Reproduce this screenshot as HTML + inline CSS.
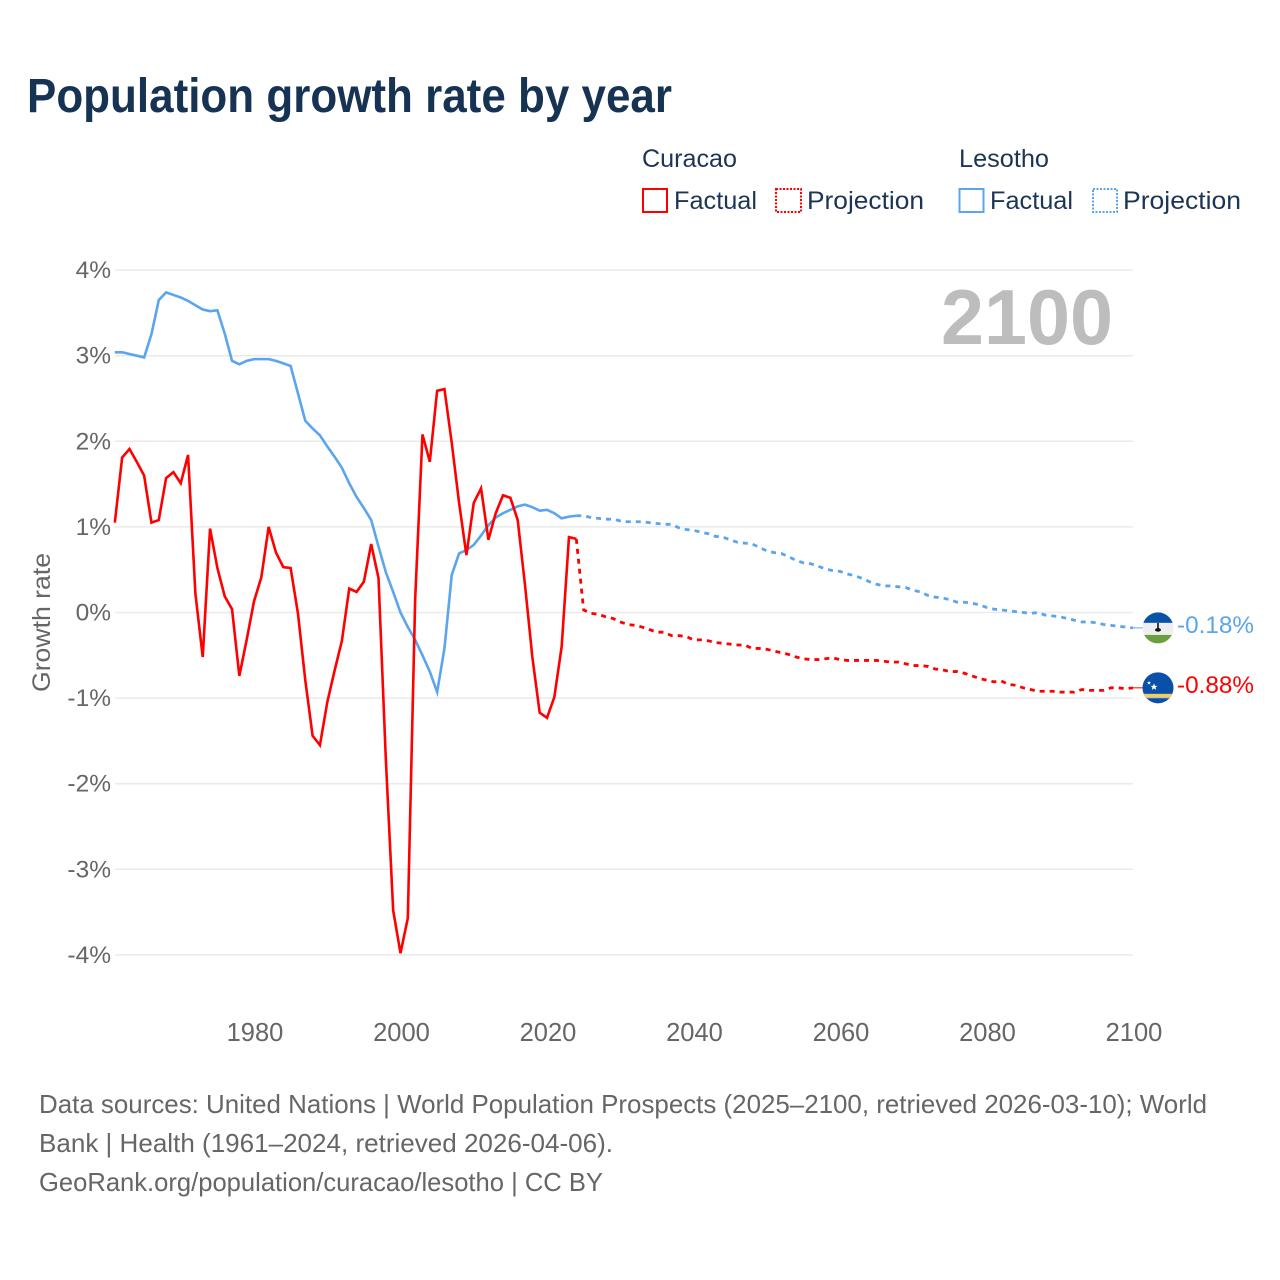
<!DOCTYPE html>
<html lang="en">
<head>
<meta charset="utf-8">
<title>Population growth rate by year</title>
<style>
html,body{margin:0;padding:0;background:#fff;width:1280px;height:1280px;overflow:hidden}
svg{display:block}
text{font-family:"Liberation Sans",sans-serif}
</style>
</head>
<body>
<svg id="chart" width="1280" height="1280" viewBox="0 0 1280 1280" xmlns="http://www.w3.org/2000/svg">
  <rect width="1280" height="1280" fill="#ffffff"/>
  <text x="27" y="112" font-size="48" font-weight="700" fill="#173353" textLength="645" lengthAdjust="spacingAndGlyphs">Population growth rate by year</text>

  <g font-size="25" fill="#1c3555">
    <text x="642" y="167" textLength="95" lengthAdjust="spacingAndGlyphs">Curacao</text>
    <text x="959" y="167" textLength="90" lengthAdjust="spacingAndGlyphs">Lesotho</text>
    <rect x="643" y="189" width="24" height="23" fill="none" stroke="#ff0000" stroke-width="2"/>
    <text x="674" y="209" textLength="83" lengthAdjust="spacingAndGlyphs">Factual</text>
    <rect x="776" y="189" width="25" height="23" fill="none" stroke="#ff0000" stroke-width="2" stroke-dasharray="2 1.5"/>
    <text x="807" y="209" textLength="117" lengthAdjust="spacingAndGlyphs">Projection</text>
    <rect x="959.5" y="189" width="24" height="23" fill="none" stroke="#5ba4ee" stroke-width="2"/>
    <text x="990" y="209" textLength="83" lengthAdjust="spacingAndGlyphs">Factual</text>
    <rect x="1093" y="189" width="24" height="23" fill="none" stroke="#5ba4ee" stroke-width="2" stroke-dasharray="2 1.5"/>
    <text x="1123" y="209" textLength="118" lengthAdjust="spacingAndGlyphs">Projection</text>
  </g>

  <g id="grid"></g>
  <g id="y-ticks"></g>
  <g id="x-ticks"></g>
  <text transform="translate(50,692) rotate(-90)" font-size="25" fill="#666666" textLength="139" lengthAdjust="spacingAndGlyphs">Growth rate</text>
  <text x="941" y="344" font-size="78" font-weight="700" fill="#bdbdbd" textLength="172" lengthAdjust="spacingAndGlyphs">2100</text>

  <g id="series"></g>

  <g id="flag-lesotho">
    <clipPath id="clip-ls"><circle cx="0" cy="0" r="15.5"/></clipPath>
    <g clip-path="url(#clip-ls)">
      <rect x="-16" y="-16" width="32" height="11" fill="#0a52a8"/>
      <rect x="-16" y="-5" width="32" height="12" fill="#eeeeee"/>
      <rect x="-16" y="7" width="32" height="9" fill="#6a9f3e"/>
      <rect x="-0.8" y="-5" width="1.6" height="7" fill="#111111"/>
      <ellipse cx="0" cy="2" rx="3" ry="1.8" fill="#111111"/>
    </g>
  </g>
  <g id="flag-curacao">
    <clipPath id="clip-cw"><circle cx="0" cy="0" r="15.5"/></clipPath>
    <g clip-path="url(#clip-cw)">
      <rect x="-16" y="-16" width="32" height="32" fill="#0a4fa8"/>
      <rect x="-16" y="6" width="32" height="3.4" fill="#f5cf52"/>
      <rect x="-16" y="9.4" width="32" height="1" fill="#c9d6e8"/>
      <polygon points="-4,-4.5 -3,-2 -0.5,-2 -2.5,-0.4 -1.8,2 -4,0.6 -6.2,2 -5.5,-0.4 -7.5,-2 -5,-2" fill="#ffffff"/>
      <polygon points="-9,-7 -8.4,-5.6 -7,-5.6 -8.1,-4.7 -7.7,-3.3 -9,-4.1 -10.3,-3.3 -9.9,-4.7 -11,-5.6 -9.6,-5.6" fill="#ffffff"/>
    </g>
  </g>
  <text id="label-lesotho" x="1177" font-size="24.5" fill="#5ba4ee" textLength="77" lengthAdjust="spacingAndGlyphs"></text>
  <text id="label-curacao" x="1177" font-size="24.5" fill="#ff0000" textLength="77" lengthAdjust="spacingAndGlyphs"></text>

  <g font-size="26" fill="#666666">
    <text x="39" y="1113" textLength="1168" lengthAdjust="spacingAndGlyphs">Data sources: United Nations | World Population Prospects (2025–2100, retrieved 2026-03-10); World</text>
    <text x="39" y="1152" textLength="574" lengthAdjust="spacingAndGlyphs">Bank | Health (1961–2024, retrieved 2026-04-06).</text>
    <text x="39" y="1191" textLength="564" lengthAdjust="spacingAndGlyphs">GeoRank.org/population/curacao/lesotho | CC BY</text>
  </g>
</svg>
<script>
const yTicks = [4, 3, 2, 1, 0, -1, -2, -3, -4];
const xTicks = [1980, 2000, 2020, 2040, 2060, 2080, 2100];
const factualStartYear = 1961;
const projectionStartYear = 2024;
const curacaoFactual = [1.05,1.81,1.91,1.76,1.60,1.05,1.08,1.57,1.64,1.51,1.84,0.22,-0.52,0.98,0.52,0.19,0.04,-0.74,-0.32,0.13,0.41,1.00,0.70,0.53,0.52,-0.01,-0.79,-1.44,-1.55,-1.05,-0.68,-0.33,0.28,0.24,0.36,0.80,0.40,-1.72,-3.48,-3.98,-3.57,0.15,2.08,1.76,2.59,2.61,1.98,1.28,0.67,1.28,1.45,0.85,1.16,1.37,1.34,1.08,0.32,-0.52,-1.17,-1.23,-0.99,-0.40,0.88,0.86];
const lesothoFactual = [3.04,3.04,3.02,3.00,2.98,3.25,3.65,3.74,3.71,3.68,3.64,3.59,3.54,3.52,3.53,3.26,2.94,2.90,2.94,2.96,2.96,2.96,2.94,2.91,2.88,2.56,2.24,2.15,2.07,1.94,1.82,1.69,1.51,1.35,1.22,1.08,0.77,0.47,0.24,0.00,-0.17,-0.32,-0.50,-0.69,-0.93,-0.42,0.44,0.69,0.73,0.79,0.90,1.02,1.11,1.16,1.20,1.24,1.26,1.23,1.19,1.20,1.16,1.10,1.12,1.13];
const curacaoProjection = [0.86,0.03,-0.01,-0.02,-0.05,-0.07,-0.11,-0.14,-0.15,-0.17,-0.20,-0.23,-0.23,-0.27,-0.27,-0.28,-0.32,-0.32,-0.33,-0.35,-0.36,-0.37,-0.38,-0.38,-0.42,-0.42,-0.43,-0.45,-0.47,-0.49,-0.52,-0.54,-0.55,-0.55,-0.54,-0.53,-0.55,-0.56,-0.56,-0.56,-0.56,-0.56,-0.57,-0.58,-0.58,-0.60,-0.62,-0.62,-0.63,-0.66,-0.67,-0.69,-0.69,-0.71,-0.74,-0.77,-0.79,-0.81,-0.80,-0.84,-0.85,-0.88,-0.90,-0.92,-0.92,-0.92,-0.93,-0.93,-0.93,-0.90,-0.91,-0.91,-0.91,-0.88,-0.88,-0.89,-0.88];
const lesothoProjection = [1.13,1.13,1.11,1.10,1.09,1.09,1.07,1.06,1.06,1.06,1.05,1.04,1.03,1.03,0.99,0.97,0.96,0.94,0.92,0.89,0.88,0.85,0.82,0.81,0.80,0.76,0.72,0.70,0.69,0.65,0.61,0.58,0.57,0.54,0.51,0.49,0.48,0.45,0.43,0.40,0.36,0.33,0.31,0.31,0.30,0.29,0.26,0.24,0.20,0.18,0.17,0.15,0.12,0.12,0.11,0.09,0.06,0.04,0.03,0.02,0.01,0.00,-0.01,0.00,-0.03,-0.04,-0.05,-0.07,-0.09,-0.11,-0.11,-0.12,-0.14,-0.15,-0.16,-0.17,-0.18];

const SVGNS = 'http://www.w3.org/2000/svg';
const xScale = function (year) { return 1133 - (2100 - year) * 7.325; };
const yScale = function (v) { return 612.5 - v * 85.6; };
const PLOT_LEFT = 115;
const PLOT_RIGHT = 1133;

function make(tag, parent) {
  const el = document.createElementNS(SVGNS, tag);
  parent.appendChild(el);
  return el;
}
function pathFrom(values, startYear, extra) {
  let d = '';
  values.forEach(function (v, i) {
    d += (i ? 'L' : 'M') + xScale(startYear + i).toFixed(2) + ' ' + yScale(v).toFixed(2);
  });
  return d + (extra || '');
}

const gridLayer = document.getElementById('grid');
const yLayer = document.getElementById('y-ticks');
yTicks.forEach(function (t) {
  const line = make('line', gridLayer);
  
  
  line.setAttribute('x1', PLOT_LEFT);
  line.setAttribute('x2', PLOT_RIGHT);
  line.setAttribute('y1', yScale(t));
  line.setAttribute('y2', yScale(t));
  line.setAttribute('stroke', '#eaeaea');
  line.setAttribute('stroke-width', '1.5');
  const label = make('text', yLayer);
  
  
  label.setAttribute('x', 111);
  label.setAttribute('y', yScale(t) + 8);
  label.setAttribute('text-anchor', 'end');
  label.setAttribute('font-size', '24.5');
  label.setAttribute('fill', '#666666');
  label.textContent = t + '%';
});

const xLayer = document.getElementById('x-ticks');
xTicks.forEach(function (t) {
  const label = make('text', xLayer);
  
  
  label.setAttribute('x', xScale(t) + 1);
  label.setAttribute('y', 1041);
  label.setAttribute('text-anchor', 'middle');
  label.setAttribute('font-size', '25.5');
  label.setAttribute('fill', '#666666');
  label.textContent = t;
});

const seriesLayer = document.getElementById('series');
const lastCuracao = curacaoProjection[curacaoProjection.length - 1];
const lastLesotho = lesothoProjection[lesothoProjection.length - 1];

const lesothoFactualLine = make('path', seriesLayer);


lesothoFactualLine.setAttribute('d', pathFrom(lesothoFactual, factualStartYear));
lesothoFactualLine.setAttribute('fill', 'none');
lesothoFactualLine.setAttribute('stroke', '#5ba4ee');
lesothoFactualLine.setAttribute('stroke-width', '2.6');

const lesothoProjectionLine = make('path', seriesLayer);


lesothoProjectionLine.setAttribute('d', pathFrom(lesothoProjection, projectionStartYear));
lesothoProjectionLine.setAttribute('fill', 'none');
lesothoProjectionLine.setAttribute('stroke', '#5ba4ee');
lesothoProjectionLine.setAttribute('stroke-width', '2.8');
lesothoProjectionLine.setAttribute('stroke-dasharray', '5 5');

const curacaoFactualLine = make('path', seriesLayer);


curacaoFactualLine.setAttribute('d', pathFrom(curacaoFactual, factualStartYear));
curacaoFactualLine.setAttribute('fill', 'none');
curacaoFactualLine.setAttribute('stroke', '#ff0000');
curacaoFactualLine.setAttribute('stroke-width', '2.6');

const curacaoProjectionLine = make('path', seriesLayer);


curacaoProjectionLine.setAttribute('d', pathFrom(curacaoProjection, projectionStartYear));
curacaoProjectionLine.setAttribute('fill', 'none');
curacaoProjectionLine.setAttribute('stroke', '#ff0000');
curacaoProjectionLine.setAttribute('stroke-width', '2.8');
curacaoProjectionLine.setAttribute('stroke-dasharray', '5 5');

const lesothoLeader = make('line', seriesLayer);


lesothoLeader.setAttribute('x1', xScale(2100));
lesothoLeader.setAttribute('x2', xScale(2100) + 12);
lesothoLeader.setAttribute('y1', yScale(lastLesotho));
lesothoLeader.setAttribute('y2', yScale(lastLesotho));
lesothoLeader.setAttribute('stroke', '#5ba4ee');
lesothoLeader.setAttribute('stroke-width', '1');

const curacaoLeader = make('line', seriesLayer);


curacaoLeader.setAttribute('x1', xScale(2100));
curacaoLeader.setAttribute('x2', xScale(2100) + 12);
curacaoLeader.setAttribute('y1', yScale(lastCuracao));
curacaoLeader.setAttribute('y2', yScale(lastCuracao));
curacaoLeader.setAttribute('stroke', '#ff0000');
curacaoLeader.setAttribute('stroke-width', '1');

document.getElementById('flag-lesotho').setAttribute('transform', 'translate(1158,' + yScale(lastLesotho) + ')');
document.getElementById('flag-curacao').setAttribute('transform', 'translate(1158,' + yScale(lastCuracao) + ')');
const labelLesotho = document.getElementById('label-lesotho');
labelLesotho.setAttribute('y', yScale(lastLesotho) + 5);
labelLesotho.textContent = lastLesotho.toFixed(2) + '%';
const labelCuracao = document.getElementById('label-curacao');
labelCuracao.setAttribute('y', yScale(lastCuracao) + 5);
labelCuracao.textContent = lastCuracao.toFixed(2) + '%';
</script>
</body>
</html>
